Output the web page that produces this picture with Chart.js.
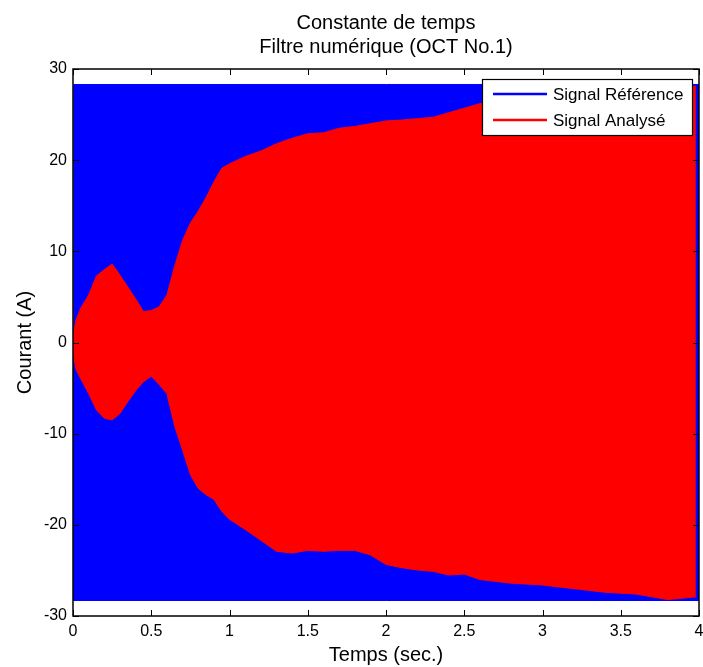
<!DOCTYPE html>
<html>
<head>
<meta charset="utf-8">
<title>Constante de temps</title>
<script src="https://cdn.jsdelivr.net/npm/chart.js@4.4.1/dist/chart.umd.min.js"></script>
<style>
  html, body { margin: 0; padding: 0; background: #ffffff; }
  canvas { display: block; }
</style>
</head>
<body>
<canvas id="chart" width="703" height="667"></canvas>
<script>
// signal de référence : enveloppe (sinus 60 Hz trop dense pour être tracé point par point)
const tempsRef = [0, 0.005, 4.0];
const refHaut = [0, 28.3, 28.3];
const refBas = [0, -28.3, -28.3];

// signal analysé : enveloppe haute et basse
const temps = [0, 0.02, 0.05, 0.1, 0.15, 0.2, 0.25, 0.3, 0.35, 0.4, 0.45, 0.5, 0.55, 0.6, 0.65, 0.7,
  0.75, 0.8, 0.85, 0.9, 0.95, 1.0, 1.1, 1.2, 1.3, 1.4, 1.5, 1.6, 1.7, 1.8, 1.9, 2.0, 2.1, 2.2, 2.3,
  2.4, 2.5, 2.6, 2.8, 3.0, 3.2, 3.4, 3.6, 3.8, 3.98];
const anaHaut = [0.8, 2.5, 3.8, 5.2, 7.3, 8.0, 8.6, 7.4, 6.1, 4.8, 3.4, 3.5, 3.9, 5.2, 8.4, 11.2,
  13.1, 14.4, 15.9, 17.6, 19.1, 19.6, 20.4, 21.0, 21.8, 22.4, 22.9, 23.0, 23.5, 23.7, 24.0, 24.3, 24.4, 24.55, 24.7,
  25.2, 25.7, 26.2, 26.6, 27.0, 27.3, 27.6, 27.8, 28.0, 28.1];
const anaBas = [-1.2, -3.0, -4.0, -5.6, -7.4, -8.3, -8.5, -7.8, -6.5, -5.3, -4.3, -3.7, -4.6, -5.6, -9.2, -11.8,
  -14.5, -16.0, -16.7, -17.2, -18.5, -19.4, -20.5, -21.7, -22.9, -23.1, -22.8, -22.9, -22.8, -22.8, -23.3, -24.35, -24.7, -24.95, -25.1,
  -25.5, -25.4, -26.0, -26.4, -26.6, -27.0, -27.4, -27.6, -28.2, -27.9];

const ticksX = [0, 0.5, 1, 1.5, 2, 2.5, 3, 3.5, 4];
const ticksY = [-30, -20, -10, 0, 10, 20, 30];

const titre = ["Constante de temps", "Filtre numérique (OCT No.1)"];
const legende = ["Signal Référence", "Signal Analysé"];

const BLEU = "#0000ff";
const ROUGE = "#ff0000";
const POLICE = "'Liberation Sans', Arial, sans-serif";

function points(xs, ys) {
  return xs.map((x, i) => ({ x: x, y: ys[i] }));
}

// cadre, graduations intérieures, titre et légende façon MATLAB
const cadreMatlab = {
  id: "cadreMatlab",
  afterDatasetsDraw(chart) {
    const { ctx, chartArea: a, scales } = chart;
    const lg = 6;
    ctx.save();
    ctx.strokeStyle = "#000";
    ctx.lineWidth = 1;
    ctx.beginPath();
    for (const v of ticksX) {
      const px = Math.round(scales.x.getPixelForValue(v)) + 0.5;
      ctx.moveTo(px, a.bottom); ctx.lineTo(px, a.bottom - lg);
      ctx.moveTo(px, a.top); ctx.lineTo(px, a.top + lg);
    }
    for (const v of ticksY) {
      const py = Math.round(scales.y.getPixelForValue(v)) + 0.5;
      ctx.moveTo(a.left, py); ctx.lineTo(a.left + lg, py);
      ctx.moveTo(a.right, py); ctx.lineTo(a.right - lg, py);
    }
    ctx.stroke();
    ctx.lineWidth = 1.5;
    ctx.strokeRect(a.left, a.top, a.right - a.left, a.bottom - a.top);

    // légende
    const lx = 482, ly = 79, lw = 210, lh = 56;
    ctx.fillStyle = "#fff";
    ctx.fillRect(lx, ly, lw, lh);
    ctx.lineWidth = 1.2;
    ctx.strokeRect(lx + 0.5, ly + 0.5, lw, lh);
    const couleurs = [BLEU, ROUGE];
    ctx.font = "17px " + POLICE;
    ctx.textBaseline = "middle";
    ctx.textAlign = "left";
    legende.forEach((txt, i) => {
      const y = ly + 15 + i * 26;
      ctx.strokeStyle = couleurs[i];
      ctx.lineWidth = 2.5;
      ctx.beginPath();
      ctx.moveTo(lx + 11, y);
      ctx.lineTo(lx + 65, y);
      ctx.stroke();
      ctx.fillStyle = "#000";
      ctx.fillText(txt, lx + 71, y + 1);
    });

    // titre sur deux lignes centré sur la zone de tracé
    ctx.fillStyle = "#000";
    ctx.font = "20px " + POLICE;
    ctx.textAlign = "center";
    const cx = (a.left + a.right) / 2;
    ctx.fillText(titre[0], cx, 23);
    ctx.fillText(titre[1], cx, 47);
    ctx.restore();
  }
};

const ctx = document.getElementById("chart");

const mainChart = new Chart(ctx, {
  type: "line",
  data: {
    datasets: [
      {
        label: "Signal Analysé haut",
        data: points(temps, anaHaut),
        borderColor: ROUGE,
        backgroundColor: ROUGE,
        borderWidth: 1,
        pointRadius: 0,
        fill: "+1"
      },
      {
        label: "Signal Analysé bas",
        data: points(temps, anaBas),
        borderColor: ROUGE,
        backgroundColor: ROUGE,
        borderWidth: 1,
        pointRadius: 0,
        fill: false
      },
      {
        label: "Signal Référence haut",
        data: points(tempsRef, refHaut),
        borderColor: BLEU,
        backgroundColor: BLEU,
        borderWidth: 1,
        pointRadius: 0,
        fill: "+1"
      },
      {
        label: "Signal Référence bas",
        data: points(tempsRef, refBas),
        borderColor: BLEU,
        backgroundColor: BLEU,
        borderWidth: 1,
        pointRadius: 0,
        fill: false
      }
    ]
  },
  options: {
    responsive: false,
    animation: false,
    layout: { padding: { top: 69, right: 4, left: 0, bottom: 0 } },
    plugins: {
      legend: { display: false },
      tooltip: { enabled: false },
      title: { display: false }
    },
    scales: {
      x: {
        type: "linear",
        min: 0,
        max: 4,
        afterFit: (s) => { s.height = 51; s.paddingLeft = 0; s.paddingRight = 0; },
        afterBuildTicks: (s) => { s.ticks = ticksX.map(v => ({ value: v })); },
        grid: { display: false, drawTicks: false },
        border: { display: false },
        ticks: {
          padding: 6,
          color: "#000",
          font: { family: POLICE, size: 16 },
          maxRotation: 0,
          callback: (v) => String(v)
        },
        title: {
          display: true,
          text: "Temps (sec.)",
          color: "#000",
          font: { family: POLICE, size: 20 },
          padding: { top: 0, bottom: 0 }
        }
      },
      y: {
        type: "linear",
        min: -30,
        max: 30,
        afterFit: (s) => { s.width = 73; },
        afterBuildTicks: (s) => { s.ticks = ticksY.map(v => ({ value: v })); },
        grid: { display: false, drawTicks: false },
        border: { display: false },
        ticks: {
          padding: 6,
          color: "#000",
          font: { family: POLICE, size: 16 },
          callback: (v) => String(v)
        },
        title: {
          display: true,
          text: "Courant (A)",
          color: "#000",
          font: { family: POLICE, size: 20 },
          padding: { top: 13, bottom: 0 }
        }
      }
    }
  },
  plugins: [cadreMatlab]
});
</script>
</body>
</html>
